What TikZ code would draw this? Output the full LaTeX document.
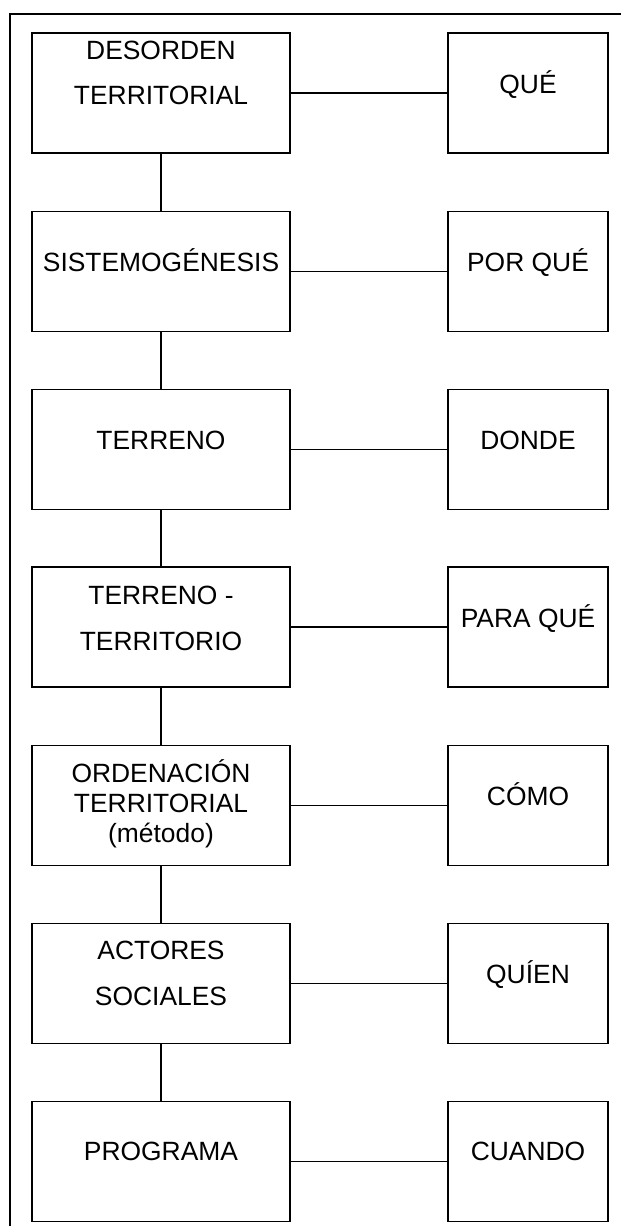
\documentclass[tikz,border=0pt]{standalone}
\usepackage{fontspec}
\setmainfont{Liberation Sans}
\begin{document}
\begin{tikzpicture}[x=1pt,y=-1pt,
  box/.style={draw, line width=1.6pt, inner sep=0pt, minimum height=120pt},
  lbox/.style={box, minimum width=258pt},
  rbox/.style={box, minimum width=160pt},
  txt/.style={anchor=base, inner sep=0pt, font=\fontsize{26.4}{30}\selectfont},
  link/.style={line width=1.6pt}]
\useasboundingbox (0,0) rectangle (621,1226);
\draw[line width=2pt] (10,1230) -- (10,14) -- (625,14);
% boxes
\foreach \i/\y in {1/93,2/271.5,3/449.5,4/627,5/805.5,6/983.5,7/1161.5}{
  \node[lbox] (l\i) at (161,\y) {};
  \node[rbox] (r\i) at (528,\y) {};
}
% connectors
\foreach \i in {1,...,7}{\draw[link] (l\i) -- (r\i);}
\foreach \i/\j in {1/2,2/3,3/4,4/5,5/6,6/7}{\draw[link] (l\i) -- (l\j);}
% texts left
\node[txt] (t1a) at (161,59) {DESORDEN};
\node[txt] (t1b) at (161,104) {TERRITORIAL};
\node[txt] (t2) at (161,271.5) {SISTEMOGÉNESIS};
\node[txt] (t3) at (161,449.5) {TERRENO};
\node[txt] (t4a) at (161,604) {TERRENO -};
\node[txt] (t4b) at (161,650) {TERRITORIO};
\node[txt] (t5a) at (161,782) {ORDENACIÓN};
\node[txt] (t5b) at (161,812.5) {TERRITORIAL};
\node[txt] (t5c) at (161,842) {(método)};
\node[txt] (t6a) at (161,959.5) {ACTORES};
\node[txt] (t6b) at (161,1005) {SOCIALES};
\node[txt] (t7) at (161,1160.5) {PROGRAMA};
% texts right
\node[txt] (q1) at (528,93.5) {QUÉ};
\node[txt] (q2) at (528,271.5) {POR QUÉ};
\node[txt] (q3) at (528,449.5) {DONDE};
\node[txt] (q4) at (528,627) {PARA QUÉ};
\node[txt] (q5) at (528,805.5) {CÓMO};
\node[txt] (q6) at (528,983) {QUÍEN};
\node[txt] (q7) at (528,1160.5) {CUANDO};
\end{tikzpicture}
\end{document}
